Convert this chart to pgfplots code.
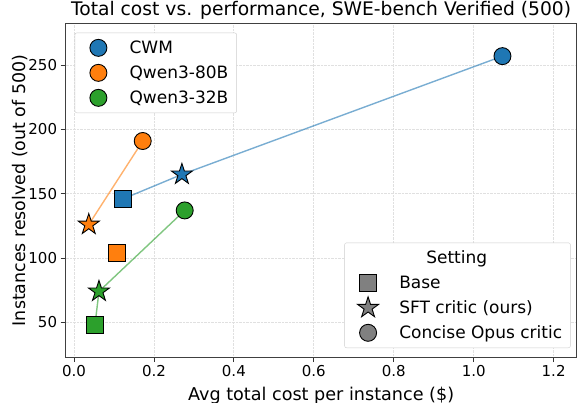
\documentclass[border=0pt]{standalone}
\usepackage{pgfplots}
\pgfplotsset{compat=1.18}
\usepackage{fontspec}
\setmainfont{DejaVu Sans}
\usetikzlibrary{plotmarks}

\definecolor{tabblue}{HTML}{1F77B4}
\definecolor{taborange}{HTML}{FF7F0E}
\definecolor{tabgreen}{HTML}{2CA02C}
\definecolor{mgray}{HTML}{808080}

% filled five-pointed star (matplotlib '*')
\pgfdeclareplotmark{fstar}{%
  \pgfpathmoveto{\pgfpointpolar{90}{\pgfplotmarksize}}%
  \pgfpathlineto{\pgfpointpolar{126}{0.382\pgfplotmarksize}}%
  \pgfpathlineto{\pgfpointpolar{162}{\pgfplotmarksize}}%
  \pgfpathlineto{\pgfpointpolar{198}{0.382\pgfplotmarksize}}%
  \pgfpathlineto{\pgfpointpolar{234}{\pgfplotmarksize}}%
  \pgfpathlineto{\pgfpointpolar{270}{0.382\pgfplotmarksize}}%
  \pgfpathlineto{\pgfpointpolar{306}{\pgfplotmarksize}}%
  \pgfpathlineto{\pgfpointpolar{342}{0.382\pgfplotmarksize}}%
  \pgfpathlineto{\pgfpointpolar{18}{\pgfplotmarksize}}%
  \pgfpathlineto{\pgfpointpolar{54}{0.382\pgfplotmarksize}}%
  \pgfpathclose
  \pgfusepathqfillstroke}

\pgfplotsset{
  base/.style={only marks, mark=square*, mark size=8.5bp, mark options={draw=black, line width=0.9bp, fill=#1}},
  sft/.style={only marks, mark=fstar, mark size=11bp, mark options={draw=black, line width=0.9bp, fill=#1}},
  opus/.style={only marks, mark=*, mark size=8.5bp, mark options={draw=black, line width=0.9bp, fill=#1}},
  link/.style={no marks, draw=#1, draw opacity=0.6, line width=1.4bp},
  frame/.style={
    at={(65.6bp,46bp)}, anchor=south west,
    scale only axis, width=511bp, height=333bp,
    xmin=-0.021, xmax=1.2575, ymin=23, ymax=282,
  },
  leg/.style={
    legend cell align=left,
    legend image code/.code={%
      \path (-15bp,0bp) (11bp,0bp);
      \draw[##1, fill opacity=1, draw opacity=1] plot coordinates {(0bp,0bp)};},
    legend style={font=\fontsize{17bp}{20bp}\selectfont, draw=black!20, fill=white,
      rounded corners=2bp,
      inner xsep=8.3bp, inner ysep=2.5bp, row sep=0bp, column sep=20bp,
      nodes={inner sep=0bp, text height=18.5bp, text depth=6.5bp}},
  },
}

\begin{document}
\begin{tikzpicture}
\begin{axis}[
  frame, leg,
  xtick={0,0.2,0.4,0.6,0.8,1.0,1.2},
  xticklabels={0.0,0.2,0.4,0.6,0.8,1.0,1.2},
  ytick={50,100,150,200,250},
  yticklabels={50,100,150,200,250},
  tick pos=left, tick align=outside,
  major tick length=5bp,
  tick style={black!80, line width=0.8bp},
  ticklabel style={font=\fontsize{15bp}{18bp}\selectfont},
  axis line style={black!75, line width=1bp},
  grid=major,
  grid style={densely dotted, black!12, line width=0.8bp},
  title={Total cost vs. performance, SWE-bench Verified (500)},
  title style={font=\fontsize{18.7bp}{22bp}\selectfont, at={(axis description cs:0.5,1)}, anchor=base, yshift=2.5bp},
  xlabel={Avg total cost per instance (\$)},
  xlabel style={font=\fontsize{17.6bp}{21bp}\selectfont, at={(axis description cs:0.5,0)}, anchor=base, yshift=-43bp},
  ylabel={Instances resolved (out of 500)},
  ylabel style={font=\fontsize{17.4bp}{21bp}\selectfont, at={(axis description cs:-0.0794,0.5)}, anchor=base},
  legend style={at={(0.0178,0.974)}, anchor=north west},
]
\addlegendimage{opus=tabblue}\addlegendentry{CWM}
\addlegendimage{opus=taborange}\addlegendentry{Qwen3-80B}
\addlegendimage{opus=tabgreen}\addlegendentry{Qwen3-32B}

% connecting lines
\addplot[link=tabblue, forget plot] coordinates {(0.123,146) (0.270,165) (1.072,257)};
\addplot[link=taborange, forget plot] coordinates {(0.037,126) (0.172,191)};
\addplot[link=tabgreen, forget plot] coordinates {(0.0525,48) (0.0625,74) (0.277,137)};

% CWM
\addplot[base=tabblue, forget plot] coordinates {(0.123,146)};
\addplot[sft=tabblue, forget plot] coordinates {(0.270,165)};
\addplot[opus=tabblue, forget plot] coordinates {(1.072,257)};
% Qwen3-80B
\addplot[base=taborange, forget plot] coordinates {(0.108,104)};
\addplot[sft=taborange, forget plot] coordinates {(0.037,126)};
\addplot[opus=taborange, forget plot] coordinates {(0.172,191)};
% Qwen3-32B
\addplot[base=tabgreen, forget plot] coordinates {(0.0525,48)};
\addplot[sft=tabgreen, forget plot] coordinates {(0.0625,74)};
\addplot[opus=tabgreen, forget plot] coordinates {(0.277,137)};
\end{axis}

% second legend: marker = setting
\begin{axis}[
  frame, leg, hide axis,
  legend style={at={(0.9883,0.027)}, anchor=south east},
]
\addlegendimage{empty legend}\addlegendentry{\hspace*{27bp}Setting}
\addlegendimage{base=mgray}\addlegendentry{Base}
\addlegendimage{sft=mgray}\addlegendentry{SFT critic (ours)}
\addlegendimage{opus=mgray}\addlegendentry{Concise Opus critic}
\end{axis}

\pgfresetboundingbox
\useasboundingbox (0,0) rectangle (578bp,403bp);
\end{tikzpicture}
\end{document}
